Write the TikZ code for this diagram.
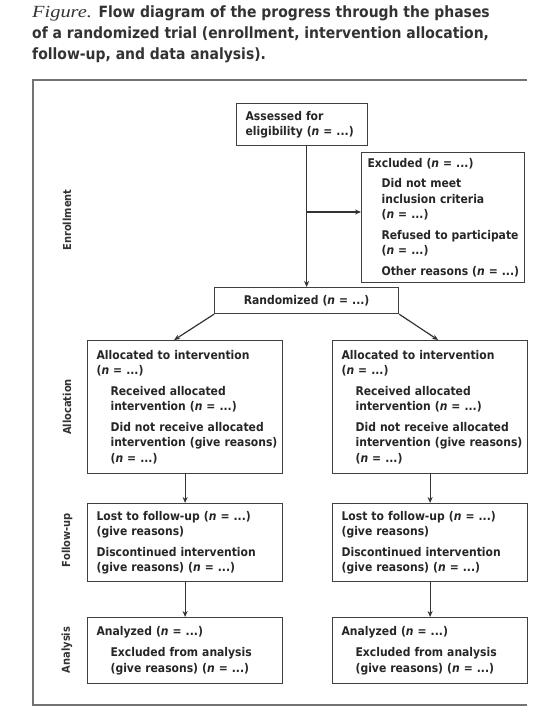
\documentclass[tikz,border=0pt]{standalone}
\usepackage{fontspec}
\setmainfont{DejaVu Sans}[FakeStretch=0.9]
\newfontfamily\capfont{Liberation Serif}[FakeStretch=1.2]
\usetikzlibrary{arrows.meta}

\newcommand{\nval}{(\textit{n} = ...)}
\newcommand{\subline}[1]{\hspace*{14bp}\mbox{#1}}

\tikzset{
  trial box/.style={draw=black!75, line width=1.2bp, anchor=north west, align=left,
    inner xsep=9bp, inner ysep=0bp, text=black!85,
    font=\bfseries\fontsize{12bp}{15.5bp}\selectfont},
  phase label/.style={rotate=90, text=black!80,
    font=\bfseries\fontsize{11bp}{12bp}\selectfont},
  flow arrow/.style={draw=black!80, line width=1.2bp, -{Stealth[length=6bp,width=5bp]}},
}

\begin{document}
\begin{tikzpicture}[x=1bp, y=-1bp]
  \useasboundingbox (0,0) rectangle (550,720);

  % caption
  \node[anchor=north west, align=left, inner sep=0pt, text=black!80,
    font=\bfseries\fontsize{15.5bp}{21bp}\selectfont] (title) at (32,6)
    {{\capfont\mdseries\itshape\fontsize{17bp}{21bp}\selectfont Figure.} Flow diagram of the progress through the phases\\
     of a randomized trial (enrollment, intervention allocation,\\
     follow-up, and data analysis).};

  % frame
  \draw[black!55, line width=1.5bp] (527,80) -- (33,80) -- (33,705) -- (527,705);

  % phases
  \node[phase label] (enrol) at (67,220) {Enrollment};
  \node[phase label] (alloc) at (67,407) {Allocation};
  \node[phase label] (follow) at (67,540) {Follow-up};
  \node[phase label] (analys) at (67,650) {Analysis};

  % enrollment
  \node[trial box, text width=113bp, minimum height=42bp] (assess) at (236,103)
    {Assessed for\\ eligibility \nval};
  \node[trial box, inner xsep=6bp, text width=151bp, minimum height=130bp] (excl) at (361,152)
    {Excluded \nval\\[5bp]
     \subline{Did not meet}\\ \subline{inclusion criteria}\\ \subline{\nval}\\[5bp]
     \subline{Refused to participate}\\ \subline{\nval}\\[5bp]
     \subline{Other reasons \nval}};
  \node[trial box, align=center, text width=166bp, minimum height=26bp] (rand) at (214,287)
    {Randomized \nval};

  % allocation
  \node[trial box, text width=177bp, minimum height=133bp] (allocA) at (87,340)
    {Allocated to intervention\\ \nval\\[5bp]
     \subline{Received allocated}\\ \subline{intervention \nval}\\[5bp]
     \subline{Did not receive allocated}\\ \subline{intervention (give reasons)}\\ \subline{\nval}};
  \node[trial box, text width=177bp, minimum height=133bp] (allocB) at (332,340)
    {Allocated to intervention\\ \nval\\[5bp]
     \subline{Received allocated}\\ \subline{intervention \nval}\\[5bp]
     \subline{Did not receive allocated}\\ \subline{intervention (give reasons)}\\ \subline{\nval}};

  % follow-up
  \node[trial box, text width=177bp, minimum height=78bp] (followA) at (87,503)
    {Lost to follow-up \nval\\ (give reasons)\\[5bp]
     Discontinued intervention\\ (give reasons) \nval};
  \node[trial box, text width=177bp, minimum height=78bp] (followB) at (332,503)
    {Lost to follow-up \nval\\ (give reasons)\\[5bp]
     Discontinued intervention\\ (give reasons) \nval};

  % analysis
  \node[trial box, text width=177bp, minimum height=66bp] (analysisA) at (87,617)
    {Analyzed \nval\\[6bp]
     \subline{Excluded from analysis}\\ \subline{(give reasons) \nval}};
  \node[trial box, text width=177bp, minimum height=66bp] (analysisB) at (332,617)
    {Analyzed \nval\\[6bp]
     \subline{Excluded from analysis}\\ \subline{(give reasons) \nval}};

  % connectors
  \coordinate (split) at (306,212);
  \draw[flow arrow] (assess.south -| rand.north) -- (rand.north);
  \draw[flow arrow] (split) -- (split -| excl.west);
  \draw[flow arrow] (rand.south west) -- ([xshift=-11bp]allocA.north);
  \draw[flow arrow] (rand.south east) -- ([xshift=8bp]allocB.north);
  \draw[flow arrow] (allocA.south) -- (followA.north);
  \draw[flow arrow] (allocB.south) -- (followB.north);
  \draw[flow arrow] (followA.south) -- (analysisA.north);
  \draw[flow arrow] (followB.south) -- (analysisB.north);
\end{tikzpicture}
\end{document}
